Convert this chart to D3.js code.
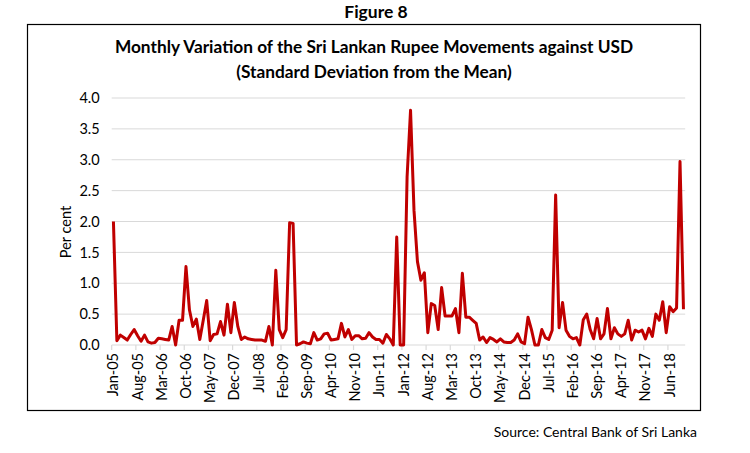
<!DOCTYPE html>
<html>
<head>
<meta charset="utf-8">
<script src="https://cdn.jsdelivr.net/npm/d3@7"></script>
<style>
  body { margin: 0; background: #fff; }
  svg text { font-family: Lato, "Open Sans", sans-serif; fill: #000; }
</style>
</head>
<body>
<svg id="chart" width="750" height="453"></svg>
<script>
// Categorias: meses de Jan-05 a Oct-18
var monthNames = ["Jan", "Feb", "Mar", "Apr", "May", "Jun", "Jul", "Aug", "Sep", "Oct", "Nov", "Dec"];
var yearLabels = ["05", "06", "07", "08", "09", "10", "11", "12", "13", "14", "15", "16", "17", "18"];

// Desviacio estandard mensual (per cent)
var values = [
  2.00, 0.07, 0.16, 0.12, 0.08, 0.17, 0.25, 0.15, 0.06, 0.16, 0.05, 0.03,
  0.04, 0.11, 0.10, 0.09, 0.08, 0.30, 0.00, 0.40, 0.40, 1.27, 0.57, 0.30,
  0.42, 0.09, 0.40, 0.72, 0.07, 0.17, 0.18, 0.38, 0.16, 0.66, 0.20, 0.69,
  0.30, 0.09, 0.13, 0.10, 0.09, 0.08, 0.08, 0.08, 0.06, 0.30, 0.00, 1.21,
  0.25, 0.12, 0.25, 1.98, 1.97, 0.00, 0.02, 0.05, 0.03, 0.02, 0.20, 0.08,
  0.10, 0.18, 0.19, 0.08, 0.09, 0.10, 0.35, 0.13, 0.25, 0.09, 0.15, 0.15,
  0.10, 0.11, 0.20, 0.13, 0.09, 0.09, 0.03, 0.17, 0.10, 0.00, 1.75, 0.00,
  0.00, 2.72, 3.80, 2.18, 1.35, 1.05, 1.17, 0.20, 0.67, 0.64, 0.25, 0.93,
  0.47, 0.47, 0.47, 0.59, 0.20, 1.16, 0.45, 0.45, 0.40, 0.35, 0.08, 0.13,
  0.04, 0.12, 0.09, 0.05, 0.10, 0.05, 0.04, 0.04, 0.08, 0.18, 0.05, 0.02,
  0.45, 0.25, 0.00, 0.00, 0.25, 0.12, 0.09, 0.24, 2.43, 0.28, 0.69, 0.24,
  0.14, 0.10, 0.12, 0.00, 0.41, 0.50, 0.25, 0.10, 0.43, 0.10, 0.18, 0.59,
  0.10, 0.28, 0.18, 0.14, 0.18, 0.40, 0.08, 0.24, 0.21, 0.24, 0.10, 0.27,
  0.14, 0.50, 0.40, 0.70, 0.20, 0.62, 0.54, 0.60, 2.97, 0.58
];

var yTicks = [0, 0.5, 1.0, 1.5, 2.0, 2.5, 3.0, 3.5, 4.0];

// Construccio de les etiquetes de mes
var months = [];
yearLabels.forEach(function (y) {
  monthNames.forEach(function (m) { months.push(m + "-" + y); });
});
months = months.slice(0, values.length);
var data = months.map(function (m, i) { return { month: m, value: values[i] }; });

var svg = d3.select("#chart");

// Marc exterior
svg.append("rect")
  .attr("x", 27.5).attr("y", 24.5)
  .attr("width", 673).attr("height", 386)
  .attr("fill", "none").attr("stroke", "#000").attr("stroke-width", 1.2);

// Titols
svg.append("text").attr("x", 376).attr("y", 18)
  .attr("text-anchor", "middle").style("font-weight", "bold").style("font-size", "17.5px")
  .text("Figure 8");
svg.append("text").attr("x", 374).attr("y", 53)
  .attr("text-anchor", "middle").style("font-weight", "bold").style("font-size", "17.3px")
  .text("Monthly Variation of the Sri Lankan Rupee Movements against USD");
svg.append("text").attr("x", 374).attr("y", 78)
  .attr("text-anchor", "middle").style("font-weight", "bold").style("font-size", "17.3px")
  .text("(Standard Deviation from the Mean)");

// Escales
var x = d3.scaleBand().domain(months).range([111.7, 685.2]).padding(0);
var y = d3.scaleLinear().domain([0, 4]).range([345, 98]);
var step = x.step();

// Graella horitzontal
svg.append("g").selectAll("line").data(yTicks.slice(1)).enter().append("line")
  .attr("x1", 111.7).attr("x2", 685.2)
  .attr("y1", function (d) { return y(d); }).attr("y2", function (d) { return y(d); })
  .attr("stroke", "#d9d9d9").attr("stroke-width", 1);

// Eix Y
var yAxis = svg.append("g").attr("transform", "translate(111.7,0)")
  .call(d3.axisLeft(y).tickValues(yTicks).tickFormat(d3.format(".1f")).tickSize(0).tickPadding(12));
yAxis.select(".domain").remove();
yAxis.selectAll("text").style("font-size", "14.5px").style("font-family", "Lato, sans-serif");

svg.append("text")
  .attr("transform", "translate(71,232) rotate(-90)")
  .attr("text-anchor", "middle").style("font-size", "14.5px")
  .text("Per cent");

// Eix X
var labelMonths = months.filter(function (m, i) { return i % 7 === 0; });
var xAxis = svg.append("g").attr("transform", "translate(0," + y(0) + ")");
xAxis.append("line").attr("x1", 111.7).attr("x2", 685.2)
  .attr("stroke", "#d9d9d9").attr("stroke-width", 1.2);
xAxis.selectAll(".tk").data(labelMonths).enter().append("line")
  .attr("class", "tk")
  .attr("x1", function (d) { return x(d); }).attr("x2", function (d) { return x(d); })
  .attr("y1", 0).attr("y2", 5)
  .attr("stroke", "#d9d9d9").attr("stroke-width", 1.2);
xAxis.selectAll(".lbl").data(labelMonths).enter().append("text")
  .attr("class", "lbl")
  .attr("transform", function (d) {
    return "translate(" + (x(d) + step / 2 + 5) + ",8) rotate(-90)";
  })
  .attr("text-anchor", "end").style("font-size", "14.5px")
  .text(function (d) { return d; });

// Linia
var line = d3.line()
  .x(function (d) { return x(d.month) + step / 2; })
  .y(function (d) { return y(d.value); });
svg.append("path").datum(data)
  .attr("d", line)
  .attr("fill", "none").attr("stroke", "#c00000")
  .attr("stroke-width", 3).attr("stroke-linejoin", "round");

// Font
svg.append("text").attr("x", 697).attr("y", 437)
  .attr("text-anchor", "end").style("font-size", "14px")
  .text("Source: Central Bank of Sri Lanka");
</script>
</body>
</html>
